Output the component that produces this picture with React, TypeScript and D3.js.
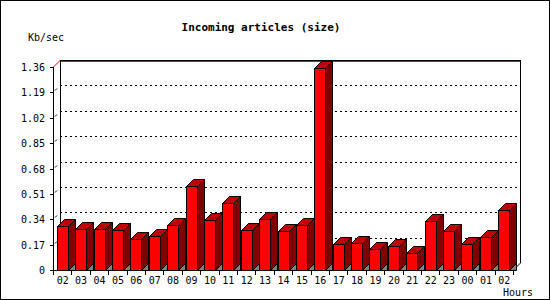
import React from "react";
import * as d3 from "d3";

const hours = ["02","03","04","05","06","07","08","09","10","11","12","13","14","15","16","17","18","19","20","21","22","23","00","01","02"];
const sizeKb = [0.295,0.275,0.275,0.266,0.208,0.228,0.301,0.563,0.335,0.449,0.268,0.342,0.261,0.301,1.353,0.174,0.181,0.141,0.161,0.114,0.328,0.261,0.174,0.221,0.402];
const yTicks = [0,0.17,0.34,0.51,0.68,0.85,1.02,1.19,1.36];
const yTickLabels = ["0","0.17","0.34","0.51","0.68","0.85","1.02","1.19","1.36"];

const W = 550, H = 300;
const left = 53, right = 513, bottom = 270, top = 67;
const depth = 7;
const barW = 11;
const mono = "'DejaVu Sans Mono', 'Liberation Mono', monospace";

export default function App() {
  const x = d3.scaleBand<number>().domain(hours.map((_, i) => i)).range([left, right]).padding(0);
  const y = d3.scaleLinear().domain([0, 1.36]).range([bottom, top]);
  const bw = x.bandwidth();

  return (
    <svg width={W} height={H} style={{ position: "absolute", left: 0, top: 0, background: "#fff" }}
      xmlns="http://www.w3.org/2000/svg">
      <rect x={0.5} y={0.5} width={W - 1} height={H - 1} fill="#fff" stroke="#000" />
      <text x={W / 2 - 14} y={31} textAnchor="middle" fontFamily={mono} fontWeight="bold" fontSize={11}>Incoming articles (size)</text>
      <text x={28} y={41} fontFamily={mono} fontSize={10}>Kb/sec</text>

      {/* back wall gridlines */}
      {yTicks.slice(1, -1).map((t, i) => {
        const yy = Math.round(y(t)) - depth + 0.5;
        return (
          <g key={"g" + i}>
            <line x1={left + depth} x2={right + depth} y1={yy} y2={yy} stroke="#000" strokeDasharray="2,3" shapeRendering="crispEdges" />
            <line x1={left + 2} y1={yy + depth - 2} x2={left + 4} y2={yy + depth - 4} stroke="#000" />
          </g>
        );
      })}

      {/* frame */}
      <line x1={left + depth} x2={right + depth} y1={top - depth + 0.5} y2={top - depth + 0.5} stroke="#000" shapeRendering="crispEdges" />
      <line x1={left + depth} x2={right + depth} y1={top - depth + 1.5} y2={top - depth + 1.5} stroke="#f00" shapeRendering="crispEdges" />
      <line x1={left + 0.5} y1={top} x2={left + depth + 0.5} y2={top - depth} stroke="#f00" />
      <line x1={left + depth + 0.5} x2={left + depth + 0.5} y1={top - depth} y2={bottom - depth} stroke="#000" shapeRendering="crispEdges" />
      <line x1={right + depth + 0.5} x2={right + depth + 0.5} y1={top - depth} y2={bottom - depth} stroke="#000" shapeRendering="crispEdges" />
      <line x1={right + depth + 0.5} y1={bottom - depth} x2={right + 0.5} y2={bottom} stroke="#000" />

      {/* bars */}
      {sizeKb.map((v, i) => {
        const cx = (x(i) as number) + bw / 2;
        const x1 = Math.round(cx - barW / 2) + 0.5;
        const x2 = x1 + barW;
        const ty = Math.round(y(v)) + 0.5;
        const by = bottom + 0.5;
        return (
          <g key={"b" + i} stroke="#000" strokeWidth={1} strokeLinejoin="miter">
            <polygon points={`${x2},${by} ${x2 + depth},${by - depth} ${x2 + depth},${by}`} fill="#808080" />
            <polygon points={`${x2},${ty} ${x2 + depth},${ty - depth} ${x2 + depth},${by - depth} ${x2},${by}`} fill="#800000" />
            <polygon points={`${x1},${ty} ${x1 + depth},${ty - depth} ${x2 + depth},${ty - depth} ${x2},${ty}`} fill="#c00000" />
            <rect x={x1} y={ty} width={barW} height={by - ty} fill="#ff0000" />
          </g>
        );
      })}

      {/* front axes */}
      <line x1={left + 0.5} x2={left + 0.5} y1={top} y2={bottom + 1} stroke="#000" shapeRendering="crispEdges" />
      <line x1={left} x2={right + 1} y1={bottom + 0.5} y2={bottom + 0.5} stroke="#000" shapeRendering="crispEdges" />

      {yTicks.map((t, i) => {
        const yy = Math.round(y(t)) + 0.5;
        return (
          <g key={"y" + i}>
            <line x1={left - 3} x2={left} y1={yy} y2={yy} stroke="#000" shapeRendering="crispEdges" />
            <text x={45} y={yy + 3.5} textAnchor="end" fontFamily={mono} fontSize={10}>{yTickLabels[i]}</text>
          </g>
        );
      })}

      {hours.map((h, i) => {
        const xx = Math.round(x(i) as number) + 0.5;
        return <line key={"xt" + i} x1={xx} x2={xx} y1={bottom} y2={bottom + 5} stroke="#000" shapeRendering="crispEdges" />;
      })}
      <line x1={right + 0.5} x2={right + 0.5} y1={bottom} y2={bottom + 5} stroke="#000" shapeRendering="crispEdges" />

      {hours.map((h, i) => (
        <text key={"xl" + i} x={(x(i) as number) + bw / 2 + 0.5} y={284} textAnchor="middle" fontFamily={mono} fontSize={10}>{h}</text>
      ))}
      <text x={533} y={296} textAnchor="end" fontFamily={mono} fontSize={10}>Hours</text>
    </svg>
  );
}
